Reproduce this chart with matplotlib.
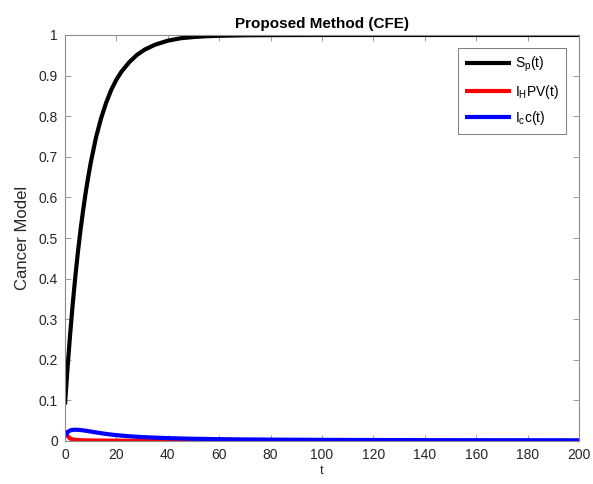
import matplotlib
matplotlib.use("Agg")
import matplotlib.pyplot as plt

plt.rcParams['font.family'] = ['Liberation Sans', 'DejaVu Sans']

t = [0, 1, 2, 3, 4, 5, 6, 7, 8, 9, 10, 12, 14, 16, 18, 20, 22, 25, 28, 31, 35,
     40, 45, 50, 55, 60, 70, 80, 100, 120, 150, 200]
S_p = [0.090, 0.181, 0.263, 0.337, 0.404, 0.464, 0.518, 0.566, 0.610, 0.649, 0.685,
       0.746, 0.794, 0.833, 0.865, 0.890, 0.910, 0.933, 0.951, 0.964, 0.976,
       0.986, 0.992, 0.995, 0.997, 0.998, 0.9993, 0.9997, 1.0, 1.0, 1.0, 1.0]
I_HPV = [0.025, 0.012, 0.006, 0.004, 0.003, 0.0025, 0.002, 0.0018, 0.0016, 0.0015, 0.0014,
         0.0012, 0.0011, 0.0010, 0.0009, 0.0008, 0.0007, 0.0006, 0.0005, 0.0005, 0.0004,
         0.0003, 0.0003, 0.0002, 0.0002, 0.0002, 0.0001, 0.0001, 0.0001, 0.0001, 0.0, 0.0]
I_c = [0.012, 0.022, 0.026, 0.0275, 0.0278, 0.0275, 0.027, 0.0262, 0.0253, 0.0243, 0.0233,
       0.0212, 0.0192, 0.0174, 0.0158, 0.0144, 0.0132, 0.0117, 0.0104, 0.0094, 0.0083,
       0.0071, 0.0062, 0.0055, 0.0050, 0.0045, 0.0039, 0.0034, 0.0028, 0.0024, 0.0020, 0.0017]

xticks = list(range(0, 201, 20))
yticks = [0, 0.1, 0.2, 0.3, 0.4, 0.5, 0.6, 0.7, 0.8, 0.9, 1]
ytick_labels = ['0', '0.1', '0.2', '0.3', '0.4', '0.5', '0.6', '0.7', '0.8', '0.9', '1']

fig = plt.figure(figsize=(5.93, 4.84), dpi=100)
ax = fig.add_axes([65/593, 1 - 441/484, (579-65)/593, (441-35)/484])

ax.plot(t, S_p, color='black', lw=3, label=r'S$_\mathregular{p}$(t)', solid_capstyle='butt')
ax.plot(t, I_HPV, color='red', lw=3, label=r'I$_\mathregular{H}$PV(t)', solid_capstyle='butt')
ax.plot(t, I_c, color='blue', lw=3, label=r'I$_\mathregular{c}$c(t)', solid_capstyle='butt')

ax.set_xlim(0, 200)
ax.set_ylim(0, 1)
ax.set_xticks(xticks)
ax.set_xticklabels([str(v) for v in xticks])
ax.set_yticks(yticks)
ax.set_yticklabels(ytick_labels)

for s in ax.spines.values():
    s.set_color('#8c8c8c')
    s.set_linewidth(0.8)
ax.tick_params(direction='in', length=4, color='#8c8c8c', labelcolor='#262626',
               labelsize=10, top=True, right=True, width=0.6, pad=5)

ax.set_title('Proposed Method (CFE)', fontsize=11, fontweight='bold', pad=5)
ax.set_ylabel('Cancer Model', fontsize=12, color='#262626', labelpad=6)
ax.set_xlabel('t', fontsize=9, color='#262626', labelpad=2)

leg = ax.legend(loc='upper right', bbox_to_anchor=((566-65)/514, (441-48)/406), fontsize=10,
                frameon=True, fancybox=False, edgecolor='#404040', handlelength=3.3,
                handletextpad=0.3, borderpad=0.5, labelspacing=0.6, borderaxespad=0)
leg.get_frame().set_linewidth(0.6)

fig.savefig('out.png', dpi=100)
